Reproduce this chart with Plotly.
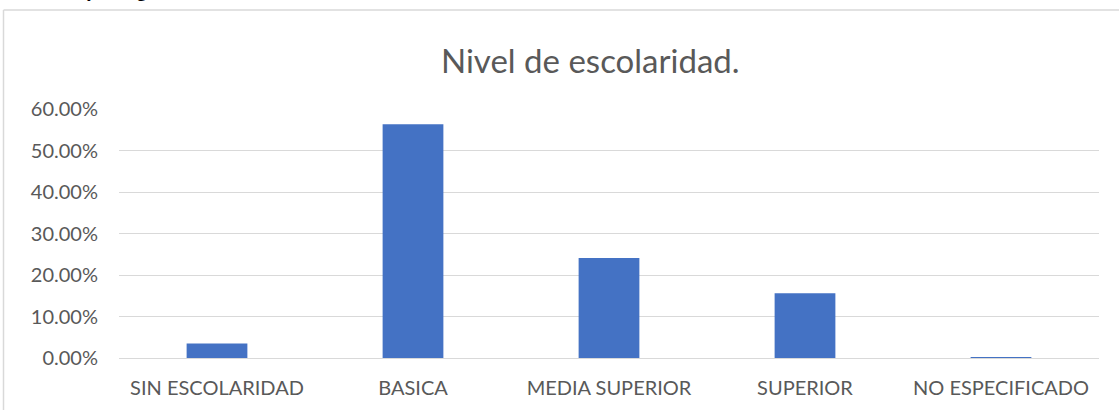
import plotly.graph_objects as go

categories = ["SIN ESCOLARIDAD", "BASICA", "MEDIA SUPERIOR", "SUPERIOR", "NO ESPECIFICADO"]
values = [0.035, 0.5635, 0.241, 0.156, 0.002]
tick_vals = [0, 0.1, 0.2, 0.3, 0.4, 0.5, 0.6]
tick_text = ["0.00%", "10.00%", "20.00%", "30.00%", "40.00%", "50.00%", "60.00%"]
title_text = "Nivel de escolaridad."

W, H = 1119, 410
L, R, T, B = 119, 20, 109, 52
pw, ph = W - L - R, H - T - B

def px_x(p):
    return (p - L) / pw

def px_y(p):
    return (H - B - p) / ph

FONT = "Lato"
GRAY = "#595959"

fig = go.Figure(go.Bar(x=categories, y=values, marker_color="#4472C4",
                       marker_line_width=0, width=0.31))

fig.update_layout(
    width=W, height=H,
    margin=dict(l=L, r=R, t=T, b=B),
    plot_bgcolor="white", paper_bgcolor="white",
    showlegend=False,
    font=dict(family=FONT, color=GRAY, size=20),
    xaxis=dict(showgrid=False, showline=False, zeroline=False, ticks="",
               tickfont=dict(size=20, color=GRAY), ticklabelstandoff=16),
    yaxis=dict(range=[0, 0.6], tickvals=tick_vals, ticktext=tick_text,
               showgrid=True, gridcolor="#d9d9d9", gridwidth=1,
               zeroline=True, zerolinecolor="#d9d9d9", zerolinewidth=1,
               showline=False, ticks="", tickfont=dict(size=20, color=GRAY),
               ticklabelstandoff=20),
    annotations=[
        dict(text=title_text, x=px_x(590), y=px_y(60), xref="paper", yref="paper",
             xanchor="center", yanchor="middle", showarrow=False,
             font=dict(size=33, color=GRAY, family=FONT)),
        dict(text="<b>y</b>", x=px_x(91), y=px_y(3), xref="paper", yref="paper",
             xanchor="center", yanchor="bottom", showarrow=False,
             font=dict(size=18, color="black", family="Liberation Serif")),
        dict(text="<b>g</b>", x=px_x(141), y=px_y(3), xref="paper", yref="paper",
             xanchor="center", yanchor="bottom", showarrow=False,
             font=dict(size=18, color="black", family="Liberation Serif")),
    ],
    shapes=[
        dict(type="line", xref="paper", yref="paper", x0=px_x(3.5), x1=px_x(1125),
             y0=px_y(10), y1=px_y(10), line=dict(color="#d9d9d9", width=1.5)),
        dict(type="line", xref="paper", yref="paper", x0=px_x(3.5), x1=px_x(3.5),
             y0=px_y(10), y1=px_y(415), line=dict(color="#d9d9d9", width=1.5)),
    ],
)

fig.write_html("out.html", config={"displayModeBar": False},
               post_script="document.body.style.margin='0';document.body.style.overflow='hidden';")
